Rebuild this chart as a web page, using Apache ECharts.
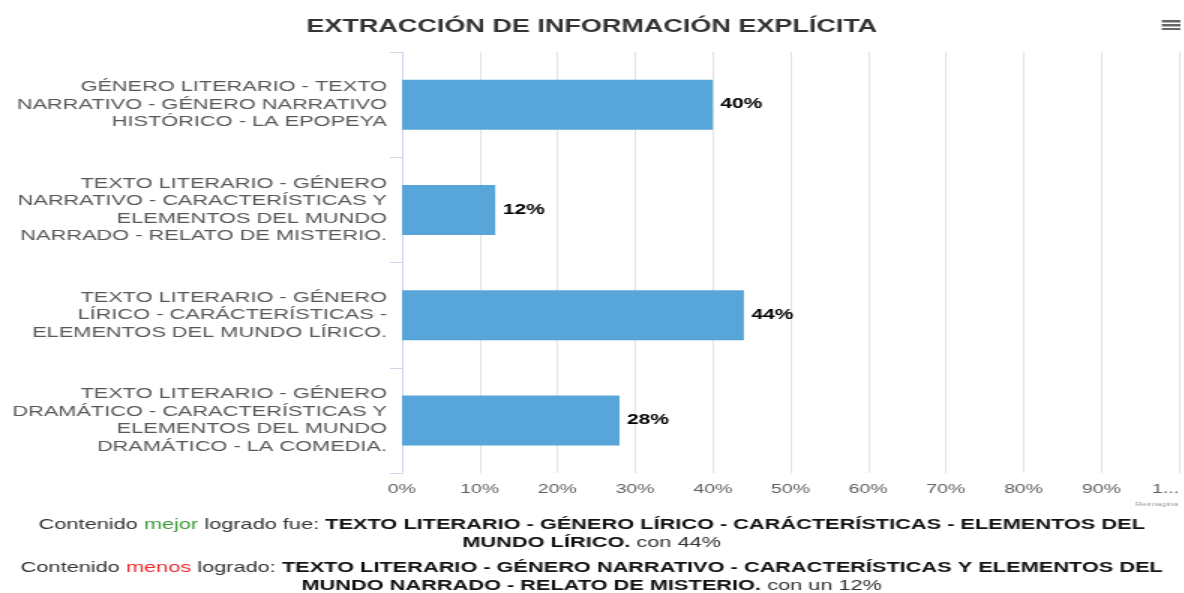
<!DOCTYPE html>
<html>
<head>
<meta charset="utf-8">
<script src="https://cdn.jsdelivr.net/npm/echarts@6/dist/echarts.min.js"></script>
<style>
  html, body { margin: 0; padding: 0; background: #fff; overflow: hidden; }
  /* la imagen original viene estirada a lo ancho, se dibuja mas angosta y se escala */
  #chart { width: 789px; height: 593px; transform: scaleX(1.5); transform-origin: 0 0; }
</style>
</head>
<body>
<div id="chart"></div>
<script>
const categories = [
  "GÉNERO LITERARIO - TEXTO\nNARRATIVO - GÉNERO NARRATIVO\nHISTÓRICO - LA EPOPEYA",
  "TEXTO LITERARIO - GÉNERO\nNARRATIVO - CARACTERÍSTICAS Y\nELEMENTOS DEL MUNDO\nNARRADO - RELATO DE MISTERIO.",
  "TEXTO LITERARIO - GÉNERO\nLÍRICO - CARÁCTERÍSTICAS -\nELEMENTOS DEL MUNDO LÍRICO.",
  "TEXTO LITERARIO - GÉNERO\nDRAMÁTICO - CARACTERÍSTICAS Y\nELEMENTOS DEL MUNDO\nDRAMÁTICO - LA COMEDIA."
];
const values = [40, 12, 44, 28];

// texto resumen (ya cortado en lineas)
const bestLines = ["TEXTO LITERARIO - GÉNERO LÍRICO - CARÁCTERÍSTICAS - ELEMENTOS DEL", "MUNDO LÍRICO."];
const worstLines = ["TEXTO LITERARIO - GÉNERO NARRATIVO - CARACTERÍSTICAS Y ELEMENTOS DEL", "MUNDO NARRADO - RELATO DE MISTERIO."];
const bestValue = Math.max(...values);
const worstValue = Math.min(...values);

const chart = echarts.init(document.getElementById("chart"));

const font = "Liberation Sans";
const bottomRich = {
  n: { fontFamily: font, fontSize: 14.5, fill: "#333" },
  g: { fontFamily: font, fontSize: 14.5, fill: "#3c9a3c" },
  r: { fontFamily: font, fontSize: 14.5, fill: "#f0282d" },
  b: { fontFamily: font, fontSize: 14.5, fontWeight: "bold", fill: "#111" }
};

chart.setOption({
  animation: false,
  title: {
    text: "EXTRACCIÓN DE INFORMACIÓN EXPLÍCITA",
    left: "center",
    top: 13,
    textStyle: {
      fontFamily: font,
      fontSize: 18,
      fontWeight: "bold",
      color: "#333"
    }
  },
  grid: {
    left: 268,
    right: 1,
    top: 52,
    bottom: 120,
    containLabel: false
  },
  xAxis: {
    type: "value",
    min: 0,
    max: 100,
    interval: 10,
    axisLine: { show: false },
    axisTick: { show: false },
    splitLine: { lineStyle: { color: "#e3e3e3", width: 1 } },
    axisLabel: {
      fontFamily: font,
      fontSize: 13,
      color: "#606060",
      margin: 10,
      alignMaxLabel: "right",
      formatter: function (v) {
        return v === 100 ? "1..." : v + "%";
      }
    }
  },
  yAxis: {
    type: "category",
    inverse: true,
    data: categories,
    axisLine: { show: true, lineStyle: { color: "#ccd6eb" } },
    axisTick: { show: true, length: 8, lineStyle: { color: "#ccd6eb" } },
    axisLabel: {
      fontFamily: font,
      fontSize: 14.5,
      lineHeight: 17.5,
      color: "#585858",
      margin: 10,
      align: "right"
    }
  },
  series: [
    {
      type: "bar",
      data: values,
      barWidth: 50,
      itemStyle: { color: "#58a5da" },
      label: {
        show: true,
        position: "right",
        distance: 5,
        formatter: "{c}%",
        fontFamily: font,
        fontSize: 14,
        fontWeight: "bold",
        color: "#000"
      }
    }
  ],
  graphic: [
    // menu
    { type: "rect", shape: { x: 774.5, y: 20, width: 12.5, height: 2.5 }, style: { fill: "#666" } },
    { type: "rect", shape: { x: 774.5, y: 24, width: 12.5, height: 2.5 }, style: { fill: "#666" } },
    { type: "rect", shape: { x: 774.5, y: 28, width: 12.5, height: 2 }, style: { fill: "#666" } },
    {
      type: "text", left: 757, top: 501,
      style: { text: "Reimagina", fontSize: 6, fill: "#999", fontFamily: font }
    },
    {
      type: "text", left: "center", top: 517,
      style: {
        text: "{n|Contenido }{g|mejor}{n| logrado fue: }{b|" + bestLines[0] + "}",
        rich: bottomRich
      }
    },
    {
      type: "text", left: "center", top: 535,
      style: {
        text: "{b|" + bestLines[1] + "}{n| con " + bestValue + "%}",
        rich: bottomRich
      }
    },
    {
      type: "text", left: "center", top: 560,
      style: {
        text: "{n|Contenido }{r|menos}{n| logrado: }{b|" + worstLines[0] + "}",
        rich: bottomRich
      }
    },
    {
      type: "text", left: "center", top: 578,
      style: {
        text: "{b|" + worstLines[1] + "}{n| con un " + worstValue + "%}",
        rich: bottomRich
      }
    }
  ]
});
</script>
</body>
</html>
